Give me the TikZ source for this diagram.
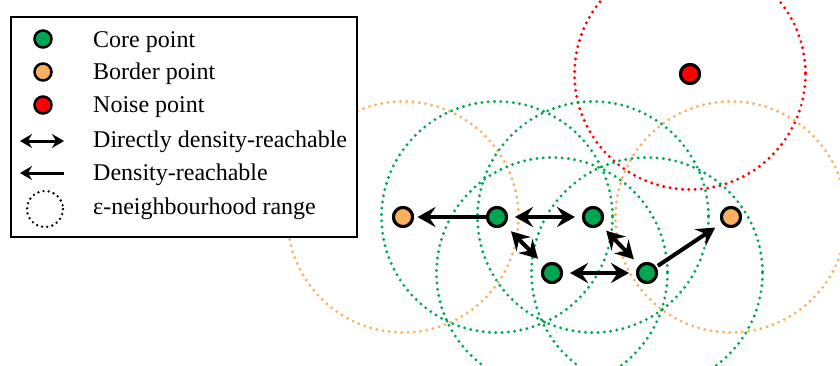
\documentclass[tikz,border=0pt]{standalone}
\usepackage{fontspec}
\setmainfont{Liberation Serif}
\usetikzlibrary{arrows.meta}
\definecolor{coregreen}{RGB}{0,166,81}
\definecolor{borderorange}{RGB}{248,176,96}
\definecolor{noisered}{RGB}{255,0,0}
\tikzset{
  pt/.style={circle, draw=black, line width=3pt, minimum size=19pt, inner sep=0pt},
  core/.style={pt, fill=coregreen},
  bord/.style={pt, fill=borderorange},
  noise/.style={pt, fill=noisered},
  lpt/.style={circle, draw=black, line width=2.5pt, minimum size=17pt, inner sep=0pt},
  eps/.style={line width=3.2pt, line cap=round, dash pattern=on 0pt off 6.3pt},
  bigtip/.tip={Stealth[length=18pt,width=20pt,inset=6.5pt]},
  smalltip/.tip={Stealth[length=12pt,width=14pt,inset=4pt]},
  link/.style={line width=4pt, -bigtip},
  dlink/.style={line width=4pt, bigtip-bigtip},
  legtext/.style={anchor=base west, inner sep=0pt, font=\fontsize{24}{28}\selectfont},
}
\begin{document}
\begin{tikzpicture}[x=1pt,y=-1pt]
\useasboundingbox (0,0) rectangle (840,365);
\clip (0,0) rectangle (840,365);
% points
\node[bord]  (L) at (403,217) {};
\node[core]  (A) at (497,217) {};
\node[core]  (B) at (593,217) {};
\node[core]  (C) at (552,273) {};
\node[core]  (D) at (647,273) {};
\node[bord]  (R) at (731,217) {};
\node[noise] (N) at (690,74) {};
% epsilon ranges
\draw[eps, noisered] (N) circle (115.5);
\draw[eps, borderorange] (L) circle (115.5);
\draw[eps, borderorange] (R) circle (115.5);
\draw[eps, coregreen] (A) circle (115.5);
\draw[eps, coregreen] (B) circle (115.5);
\draw[eps, coregreen] (C) circle (115.5);
\draw[eps, coregreen] (D) circle (115.5);
% connectors
\draw[link, shorten >=3.5pt] (A) -- (L);
\draw[dlink, shorten <=7pt, shorten >=7pt] (A) -- (B);
\draw[dlink, shorten <=9pt, shorten >=9pt] (A) -- (C);
\draw[dlink, shorten <=8pt, shorten >=8pt] (B) -- (D);
\draw[dlink, shorten <=7pt, shorten >=7pt] (C) -- (D);
\draw[link, shorten <=2pt, shorten >=8pt] (D) -- (R);
% redraw points on top
\node[bord]  at (L) {};
\node[core]  at (A) {};
\node[core]  at (B) {};
\node[core]  at (C) {};
\node[core]  at (D) {};
\node[bord]  at (R) {};
\node[noise] at (N) {};
% legend
\draw[line width=2.5pt, fill=white] (11,17) rectangle (357,237);
\node[lpt, fill=coregreen]    (k1) at (43,39) {};
\node[lpt, fill=borderorange] (k2) at (43,72) {};
\node[lpt, fill=noisered]     (k3) at (43,105) {};
\coordinate (d1) at (20,141);
\coordinate (d2) at (64,141);
\draw[line width=3pt, smalltip-smalltip] (d1) -- (d2);
\coordinate (e1) at (64,173);
\coordinate (e2) at (20,173);
\draw[line width=3pt, -smalltip] (e1) -- (e2);
\coordinate (ec) at (45,209);
\draw[line width=2.6pt, line cap=round, dash pattern=on 0pt off 5.2pt] (ec) circle (18);
\node[legtext] (t1) at (93,47) {Core point};
\node[legtext] (t2) at (93,79.5) {Border point};
\node[legtext] (t3) at (93,112.5) {Noise point};
\node[legtext] (t4) at (93,147) {Directly density-reachable};
\node[legtext] (t5) at (93,180.5) {Density-reachable};
\node[legtext] (t6) at (93,214) {ε-neighbourhood range};
\end{tikzpicture}
\end{document}
